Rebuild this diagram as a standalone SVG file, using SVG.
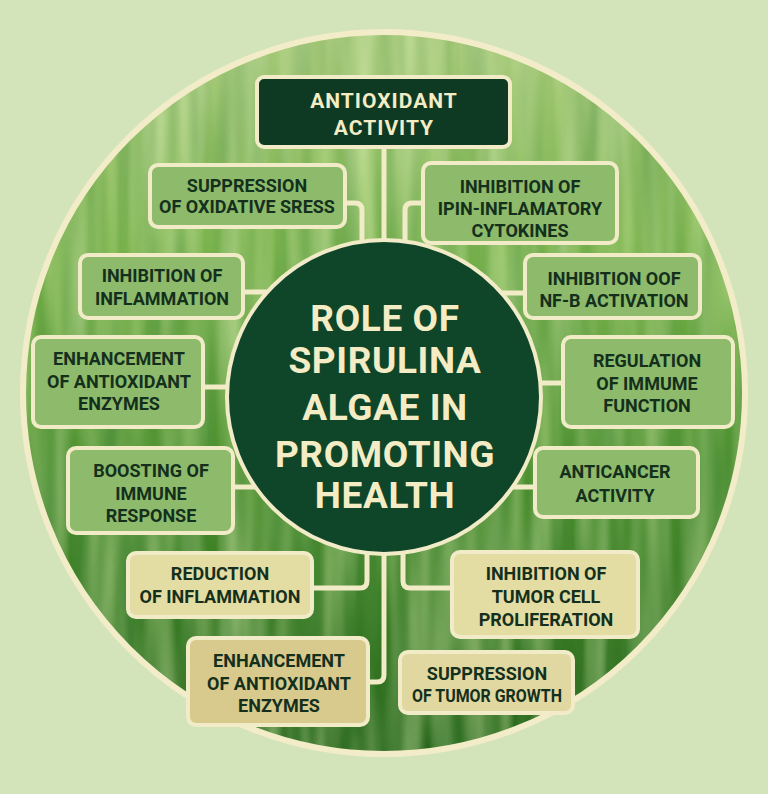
<svg xmlns="http://www.w3.org/2000/svg" width="768" height="794" viewBox="0 0 768 794">
<defs>
<linearGradient id="bg" x1="0" y1="0" x2="0" y2="1">
<stop offset="0" stop-color="#a6c979"/>
<stop offset="0.3" stop-color="#7ab34d"/>
<stop offset="0.6" stop-color="#4a8f2c"/>
<stop offset="1" stop-color="#27661b"/>
</linearGradient>
<clipPath id="cc"><circle cx="384" cy="393" r="361"/></clipPath>
<filter id="streak" x="0" y="0" width="100%" height="100%">
<feTurbulence type="fractalNoise" baseFrequency="0.045 0.004" numOctaves="2" seed="7"/>
<feColorMatrix type="matrix" values="0 0 0 0 0.82  0 0 0 0 0.94  0 0 0 0 0.52  1.8 0 0 0 -0.6"/>
</filter>
<filter id="streakd" x="0" y="0" width="100%" height="100%">
<feTurbulence type="fractalNoise" baseFrequency="0.05 0.005" numOctaves="2" seed="21"/>
<feColorMatrix type="matrix" values="0 0 0 0 0.1  0 0 0 0 0.3  0 0 0 0 0.08  1.8 0 0 0 -0.6"/>
</filter>
<style>
.box{fill:#8dba6b;stroke:#f1ebc7;stroke-width:4}
.boxy{fill:#e3dca3;stroke:#f1ebc7;stroke-width:4}
.boxt{fill:#d8ca8c;stroke:#f1ebc7;stroke-width:4}
.t{font-family:Roboto,"Liberation Sans",Arial,sans-serif;font-weight:700;font-size:18px;fill:#14301c;text-anchor:middle}
.c{fill:none;stroke:#f1ebc7;stroke-width:5;stroke-linejoin:round}
</style>
</defs>
<rect width="768" height="794" fill="#d3e4bb"/>
<g id="background">
<circle cx="384" cy="393" r="361" fill="url(#bg)"/>
<g clip-path="url(#cc)">
<rect x="20" y="30" width="730" height="730" filter="url(#streakd)" opacity="0.45"/>
<rect x="20" y="30" width="730" height="730" filter="url(#streak)" opacity="0.5"/>
</g>
<circle cx="384" cy="393" r="361" fill="none" stroke="#f3ecc8" stroke-width="6"/>
</g>
<g id="connectors">
<path class="c" d="M384 147 V244"/>
<path class="c" d="M345 203 H355 Q362 203 362 210 V245"/>
<path class="c" d="M423 203 H412 Q405 203 405 210 V245"/>
<path class="c" d="M243 292 H272"/>
<path class="c" d="M203 387 H230"/>
<path class="c" d="M233 487 H258"/>
<path class="c" d="M525 293 H496"/>
<path class="c" d="M563 383 H538"/>
<path class="c" d="M535 487 H510"/>
<path class="c" d="M312 588 H360 Q367 588 367 581 V550"/>
<path class="c" d="M368 682 H377 Q384 682 384 675 V550"/>
<path class="c" d="M452 588 H410 Q403 588 403 581 V550"/>
</g>
<g id="center">
<circle cx="384" cy="397" r="157" fill="#0f4529" stroke="#f1ebc7" stroke-width="4"/>
<g font-family="Roboto,'Liberation Sans',Arial,sans-serif" font-weight="700" font-size="37" fill="#f3ecc4" text-anchor="middle" letter-spacing="0.6">
<text x="385" y="331">ROLE OF</text>
<text x="385" y="373">SPIRULINA</text>
<text x="385" y="420">ALGAE IN</text>
<text x="385" y="467">PROMOTING</text>
<text x="385" y="508">HEALTH</text>
</g>
</g>
<g id="n-antioxidant-activity">
<rect x="257" y="77" width="253" height="70" rx="7" fill="#0e3a24" stroke="#f1ebc7" stroke-width="4"/>
<text class="t" x="384" y="108" style="fill:#f3ecc4;font-size:21px;letter-spacing:1px">ANTIOXIDANT</text>
<text class="t" x="384" y="135" style="fill:#f3ecc4;font-size:21px;letter-spacing:1px">ACTIVITY</text>
</g>
<g id="n-suppression-oxidative">
<rect class="box" x="150" y="165" width="195" height="62" rx="8"/>
<text class="t" x="247" y="192">SUPPRESSION</text>
<text class="t" x="247" y="213">OF OXIDATIVE SRESS</text>
</g>
<g id="n-cytokines">
<rect class="box" x="423" y="163" width="194" height="80" rx="8"/>
<text class="t" x="520" y="193">INHIBITION OF</text>
<text class="t" x="520" y="215">IPIN-INFLAMATORY</text>
<text class="t" x="520" y="237">CYTOKINES</text>
</g>
<g id="n-inflammation">
<rect class="box" x="80" y="255" width="163" height="63" rx="8"/>
<text class="t" x="162" y="282">INHIBITION OF</text>
<text class="t" x="162" y="305">INFLAMMATION</text>
</g>
<g id="n-enzymes-left">
<rect class="box" x="33" y="337" width="170" height="90" rx="8"/>
<text class="t" x="119" y="365">ENHANCEMENT</text>
<text class="t" x="119" y="388">OF ANTIOXIDANT</text>
<text class="t" x="119" y="410">ENZYMES</text>
</g>
<g id="n-boosting">
<rect class="box" x="68" y="448" width="165" height="85" rx="8"/>
<text class="t" x="151" y="477">BOOSTING OF</text>
<text class="t" x="151" y="500">IMMUNE</text>
<text class="t" x="151" y="522">RESPONSE</text>
</g>
<g id="n-nfb">
<rect class="box" x="525" y="255" width="175" height="63" rx="8"/>
<text class="t" x="614" y="285">INHIBITION OOF</text>
<text class="t" x="614" y="307">NF-B ACTIVATION</text>
</g>
<g id="n-regulation">
<rect class="box" x="563" y="337" width="170" height="90" rx="8"/>
<text class="t" x="647" y="367">REGULATION</text>
<text class="t" x="647" y="390">OF IMMUME</text>
<text class="t" x="647" y="412">FUNCTION</text>
</g>
<g id="n-anticancer">
<rect class="box" x="535" y="448" width="163" height="69" rx="8"/>
<text class="t" x="615" y="478">ANTICANCER</text>
<text class="t" x="615" y="502">ACTIVITY</text>
</g>
<g id="n-reduction">
<rect class="boxy" x="128" y="553" width="184" height="64" rx="8"/>
<text class="t" x="220" y="580">REDUCTION</text>
<text class="t" x="220" y="603">OF INFLAMMATION</text>
</g>
<g id="n-enzymes-bottom">
<rect class="boxt" x="188" y="638" width="180" height="87" rx="8"/>
<text class="t" x="279" y="667">ENHANCEMENT</text>
<text class="t" x="279" y="690">OF ANTIOXIDANT</text>
<text class="t" x="279" y="712">ENZYMES</text>
</g>
<g id="n-tumor-cell">
<rect class="boxy" x="452" y="552" width="186" height="85" rx="8"/>
<text class="t" x="546" y="580">INHIBITION OF</text>
<text class="t" x="546" y="603">TUMOR CELL</text>
<text class="t" x="546" y="626">PROLIFERATION</text>
</g>
<g id="n-tumor-growth">
<rect class="boxy" x="400" y="652" width="173" height="61" rx="8" style="fill:#e0d8a0"/>
<text class="t" x="487" y="680">SUPPRESSION</text>
<text class="t" x="487" y="702" textLength="150" lengthAdjust="spacingAndGlyphs">OF TUMOR GROWTH</text>
</g>
</svg>
